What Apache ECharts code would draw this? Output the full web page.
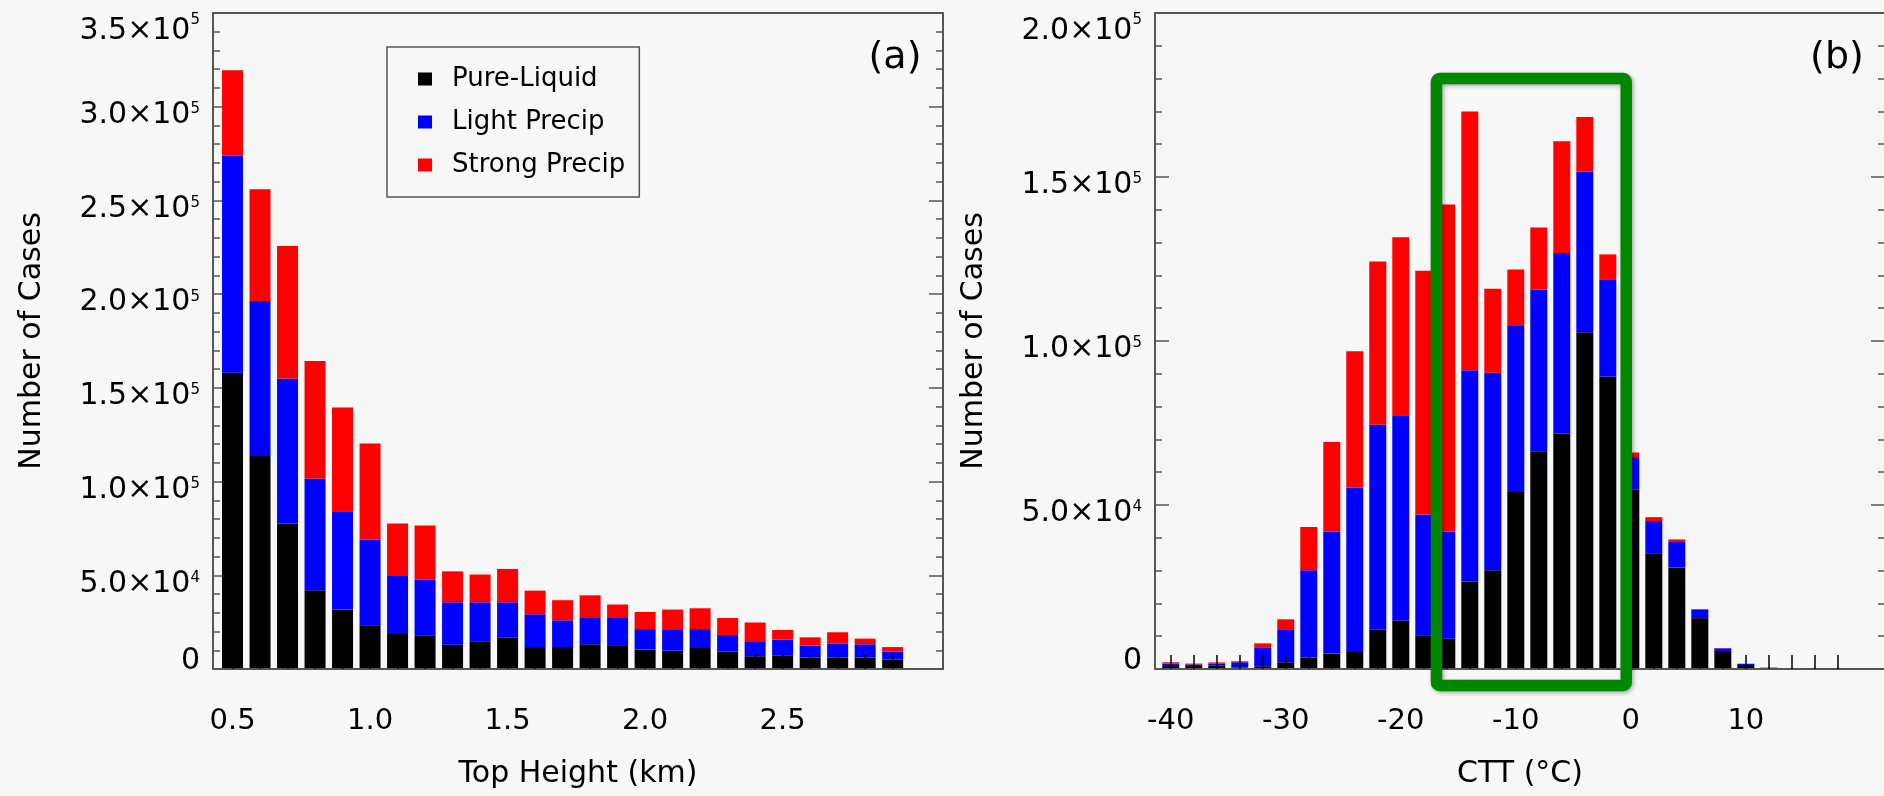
<!DOCTYPE html>
<html><head><meta charset="utf-8">
<script src="https://cdn.jsdelivr.net/npm/echarts@6/dist/echarts.min.js"></script>
<style>html,body{margin:0;padding:0;background:#f7f7f7}#c{width:1884px;height:796px}</style>
</head><body><div id="c"></div>
<script>
// ---------- data: panel (a) cloud top height ----------
const heightBins = [0.5,0.6,0.7,0.8,0.9,1.0,1.1,1.2,1.3,1.4,1.5,1.6,1.7,1.8,1.9,2.0,2.1,2.2,2.3,2.4,2.5,2.6,2.7,2.8,2.9];
const pureA   = [158000,113700,77600,42000,31700,23300,18700,18000,13000,14800,16900,11700,11700,13200,12300,10400,9800,11200,9300,6800,7300,6100,6100,6100,5000];
const lightA  = [116000,82700,77400,59600,52400,45700,30900,29700,22600,20800,18700,17500,14300,14000,14900,10900,11000,10100,8800,7600,8400,6400,7600,7100,4300];
const strongA = [45500,59600,70700,62700,55400,51300,28000,28800,16500,14800,17800,12600,10700,12100,7200,9100,10900,11100,9100,10400,5100,4400,5900,3000,2400];
const heightTickLabels = [0.5,1.0,1.5,2.0,2.5];

// ---------- data: panel (b) cloud top temperature ----------
const cttBins = [-40,-38,-36,-34,-32,-30,-28,-26,-24,-22,-20,-18,-16,-14,-12,-10,-8,-6,-4,-2,0,2,4,6,8,10,12,14,16,18];
const pureB   = [900,900,1000,500,820,2050,3500,4700,5200,12100,14800,10300,9200,26700,30100,54000,66400,71700,102700,89200,54700,35300,30900,15500,5500,1200,400,0,0,0];
const lightB  = [750,500,600,1550,5600,9850,26600,37200,50100,62400,62600,36800,32700,64400,60200,50600,49200,55100,49000,29600,9900,9800,7800,2600,800,400,0,0,0,0];
const strongB = [400,250,400,300,1400,3250,13200,27300,41600,49700,54200,74300,99700,78900,25600,17200,19000,34100,16600,7600,1400,1200,800,200,100,0,0,0,0,0];
const cttTickLabels = [-40,-30,-20,-10,0,10];

const seriesNames = ['Pure-Liquid','Light Precip','Strong Precip'];
const seriesColors = ['#000000','#0000ff','#ff0000'];
const highlightBox = {ctt: [-16.9, -0.4], cases: [-5000, 180000]};

// ---------- styling ----------
const FONT = 'DejaVu Sans';
const AXIS_COLOR = '#555555';
const GRID_A = {left: 213, top: 13, width: 730, height: 656};
const GRID_B = {left: 1155, top: 13, width: 730, height: 656};

function makeSci(max) {
  return function (v) {
    if (v === 0) return '{z|0}';
    const e = Math.floor(Math.log10(v) + 1e-9);
    const m = (v / Math.pow(10, e)).toFixed(1);
    if (v === max) return '{bt|' + m + '\u00d710}{st|' + e + '}';
    return '{b|' + m + '\u00d710}{s|' + e + '}';
  };
}
const sciRich = {
  b:  {fontSize: 30, fontFamily: FONT, color: '#000', lineHeight: 30, padding: [17, 0, 0, 0]},
  s:  {fontSize: 15, fontFamily: FONT, color: '#000', lineHeight: 16, verticalAlign: 'top', padding: [10, 0, 0, 0]},
  bt: {fontSize: 30, fontFamily: FONT, color: '#000', lineHeight: 30, padding: [7, 0, 0, 0]},
  st: {fontSize: 15, fontFamily: FONT, color: '#000', lineHeight: 16, verticalAlign: 'top'},
  z:  {fontSize: 30, fontFamily: FONT, color: '#000', lineHeight: 16}
};

function xAxes(gi, min, max, ticks, labels, name, fmt) {
  return [{
    gridIndex: gi, type: 'value', position: 'bottom', min: min, max: max, z: 10,
    axisLine: {show: true, onZero: false, lineStyle: {color: AXIS_COLOR, width: 2}},
    axisTick: {show: true, inside: true, length: 14, customValues: ticks, lineStyle: {color: '#000', width: 1.5}},
    axisLabel: {show: true, customValues: labels, formatter: fmt, margin: 38, fontSize: 29, fontFamily: FONT, color: '#000'},
    splitLine: {show: false},
    name: name, nameLocation: 'middle', nameGap: 90,
    nameTextStyle: {fontSize: 30, fontFamily: FONT, color: '#000'}
  }, {
    gridIndex: gi, type: 'value', position: 'top', min: min, max: max,
    axisLine: {show: true, onZero: false, lineStyle: {color: AXIS_COLOR, width: 2}},
    axisTick: {show: false}, axisLabel: {show: false}, splitLine: {show: false}
  }];
}
function yAxes(gi, max) {
  const common = {
    gridIndex: gi, type: 'value', min: 0, max: max, interval: 50000,
    axisLine: {show: true, onZero: false, lineStyle: {color: AXIS_COLOR, width: 2}},
    axisTick: {show: true, inside: true, length: 14, lineStyle: {color: AXIS_COLOR, width: 1.5}},
    minorTick: {show: true, splitNumber: 5, length: 7, lineStyle: {color: AXIS_COLOR, width: 1.5}},
    splitLine: {show: false}, minorSplitLine: {show: false}
  };
  return [Object.assign({}, common, {
    position: 'left',
    axisLabel: {show: true, formatter: makeSci(max), rich: sciRich, margin: 13,
      verticalAlignMinLabel: 'bottom', verticalAlignMaxLabel: 'top'},
    name: 'Number of Cases', nameLocation: 'middle', nameRotate: 90, nameGap: 166,
    nameTextStyle: {fontSize: 30, fontFamily: FONT, color: '#000'}
  }), Object.assign({}, common, {position: 'right', axisLabel: {show: false}})];
}

// value first, bin second: makes the stack act on the value (y) dimension
function barSeries(xs, arrays, xi, yi, stack, width) {
  return arrays.map((arr, k) => ({
    name: seriesNames[k], type: 'bar', stack: stack, xAxisIndex: xi, yAxisIndex: yi,
    barWidth: width, itemStyle: {color: seriesColors[k]},
    encode: {x: 1, y: 0},
    data: xs.map((x, i) => [arr[i], x])
  }));
}

const chart = echarts.init(document.getElementById('c'), null, {renderer: 'canvas'});
const option = {
  animation: false,
  backgroundColor: '#f7f7f7',
  textStyle: {fontFamily: FONT},
  color: seriesColors,
  grid: [Object.assign({outerBoundsMode: 'none', containLabel: false}, GRID_A),
         Object.assign({outerBoundsMode: 'none', containLabel: false}, GRID_B)],
  xAxis: [].concat(
    xAxes(0, 0.429, 3.083, heightBins, heightTickLabels, 'Top Height (km)', v => v.toFixed(1)),
    xAxes(1, -41.37, 22.1, cttBins, cttTickLabels, 'CTT (\u00b0C)', v => String(v))
  ),
  yAxis: [].concat(yAxes(0, 350000), yAxes(1, 200000)),
  legend: {
    data: seriesNames, orient: 'vertical', left: 387, top: 47,
    padding: [19, 14, 19, 31], itemGap: 17, itemWidth: 14, itemHeight: 13, icon: 'rect',
    borderColor: '#555', borderWidth: 1.5, backgroundColor: 'transparent', selectedMode: false,
    textStyle: {fontSize: 26, fontFamily: FONT, color: '#000', padding: [0, 0, 0, 15]}
  },
  series: [].concat(
    barSeries(heightBins, [pureA, lightA, strongA], 0, 0, 'a', 21),
    barSeries(cttBins, [pureB, lightB, strongB], 2, 2, 'b', 17)
  ),
  graphic: [
    {type: 'text', id: 'la', z: 100, style: {text: '(a)', x: GRID_A.left + GRID_A.width - 48, y: 58, textAlign: 'center', textVerticalAlign: 'middle', font: '38px "DejaVu Sans"', fill: '#000'}},
    {type: 'text', id: 'lb', z: 100, style: {text: '(b)', x: GRID_B.left + GRID_B.width - 48, y: 58, textAlign: 'center', textVerticalAlign: 'middle', font: '38px "DejaVu Sans"', fill: '#000'}}
  ]
};
chart.setOption(option);

// highlight box placed from data coordinates of panel (b)
const p0 = chart.convertToPixel({seriesIndex: 3}, [highlightBox.ctt[0], highlightBox.cases[1]]);
const p1 = chart.convertToPixel({seriesIndex: 3}, [highlightBox.ctt[1], highlightBox.cases[0]]);
chart.setOption({graphic: [{
  type: 'rect', id: 'box', z: 100,
  shape: {x: p0[0], y: p0[1], width: p1[0] - p0[0], height: p1[1] - p0[1], r: 3},
  style: {fill: 'none', stroke: '#008800', lineWidth: 11.5,
    shadowBlur: 4, shadowColor: 'rgba(0,0,0,0.35)', shadowOffsetX: 1.5, shadowOffsetY: 1.5}
}]});
</script></body></html>
